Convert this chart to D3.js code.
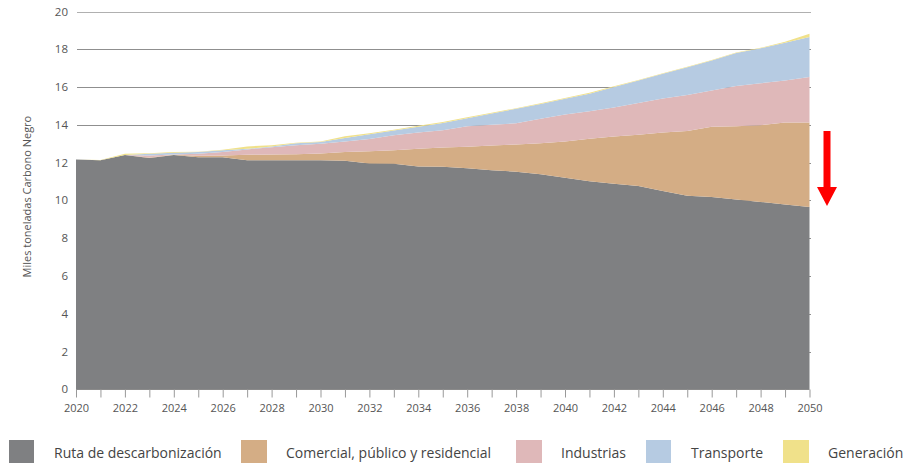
<!DOCTYPE html>
<html>
<head>
<meta charset="utf-8">
<script src="https://cdn.jsdelivr.net/npm/d3@7"></script>
<style>
  html, body { margin: 0; padding: 0; background: #fff; }
  svg { display: block; font-family: "Open Sans", sans-serif; }
</style>
</head>
<body>
<svg id="chart" width="904" height="463"></svg>
<script>
const years = d3.range(2020, 2051);
const seriesNames = ["Ruta de descarbonización", "Comercial, público y residencial", "Industrias", "Transporte", "Generación"];
const seriesColors = ["#7f8082", "#d4ad85", "#dfb8b9", "#b6cbe2", "#f0e18a"];

const ruta = [12.17, 12.12, 12.40, 12.25, 12.40, 12.29, 12.29, 12.12, 12.12, 12.12, 12.12, 12.10, 11.95, 11.94, 11.80, 11.78, 11.70, 11.60, 11.52, 11.38, 11.20, 11.02, 10.88, 10.76, 10.50, 10.25, 10.18, 10.05, 9.92, 9.78, 9.65];
const comercial = [0, 0, 0, 0.02, 0.02, 0.07, 0.09, 0.30, 0.31, 0.32, 0.36, 0.46, 0.65, 0.71, 0.94, 1.02, 1.14, 1.30, 1.44, 1.64, 1.92, 2.24, 2.50, 2.72, 3.10, 3.43, 3.72, 3.88, 4.06, 4.34, 4.47];
const industrias = [0, 0, 0, 0.11, 0.01, 0.11, 0.18, 0.28, 0.39, 0.48, 0.52, 0.56, 0.65, 0.80, 0.86, 0.92, 1.08, 1.10, 1.12, 1.30, 1.43, 1.46, 1.54, 1.67, 1.80, 1.90, 1.92, 2.12, 2.22, 2.23, 2.41];
const transporte = [0, 0, 0, 0.09, 0.09, 0.09, 0.09, 0.03, 0.04, 0.11, 0.09, 0.18, 0.25, 0.25, 0.30, 0.38, 0.43, 0.60, 0.77, 0.78, 0.83, 0.93, 1.08, 1.20, 1.30, 1.47, 1.58, 1.75, 1.85, 2.00, 2.12];
const generacion = [0, 0.02, 0.07, 0.03, 0.04, 0.02, 0.03, 0.13, 0.06, 0.02, 0.03, 0.10, 0.05, 0.04, 0.05, 0.05, 0.05, 0.04, 0.03, 0.04, 0.04, 0.05, 0.04, 0.03, 0.03, 0.03, 0.03, 0.03, 0.03, 0.05, 0.17];
const yTicks = [0, 2, 4, 6, 8, 10, 12, 14, 16, 18, 20];
const xLabelYears = d3.range(2020, 2051, 2);
const yTitle = "Miles toneladas Carbono Negro";

const seriesValues = [ruta, comercial, industrias, transporte, generacion];
const table = years.map((yr, i) => {
  const row = { year: yr };
  seriesNames.forEach((n, k) => { row[n] = seriesValues[k][i]; });
  return row;
});

const svg = d3.select("#chart");
const x = d3.scaleLinear().domain([2020, 2050]).range([76, 809.5]);
const y = d3.scaleLinear().domain([0, 20]).range([389.3, 11.5]);

// gridlines
svg.append("g").selectAll("line").data(yTicks.filter(d => d > 0)).join("line")
  .attr("x1", 77).attr("x2", 811)
  .attr("y1", d => Math.round(y(d)) + 0.5).attr("y2", d => Math.round(y(d)) + 0.5)
  .attr("stroke", d => d === 20 ? "#b0b0b0" : "#8f8f8f").attr("stroke-width", 1);

// stacked areas
const stack = d3.stack().keys(seriesNames);
const layers = stack(table);
const area = d3.area()
  .x(d => x(d.data.year))
  .y0(d => y(d[0]))
  .y1(d => y(d[1]));
svg.append("g").selectAll("path").data(layers).join("path")
  .attr("d", area)
  .attr("fill", (d, i) => seriesColors[i]);

// y tick labels
svg.append("g").selectAll("text").data(yTicks).join("text")
  .attr("x", 68).attr("y", d => y(d))
  .attr("dy", "0.35em")
  .attr("text-anchor", "end")
  .attr("font-size", 11.5)
  .attr("fill", "#555")
  .text(d => d);

// x axis
const xAxis = d3.axisBottom(x)
  .tickValues(years)
  .tickSize(8)
  .tickFormat(d => xLabelYears.includes(d) ? d : "");
const gx = svg.append("g").attr("transform", `translate(0,${Math.round(y(0)) + 0.5})`).call(xAxis);
gx.select(".domain").attr("stroke", "#8a8a8a").attr("d", `M${x(2020)},0H${x(2050)}`);
gx.selectAll(".tick line").attr("stroke", "#999");
gx.selectAll(".tick text")
  .attr("font-family", "Open Sans, sans-serif")
  .attr("font-size", 11)
  .attr("fill", "#555")
  .attr("dy", "0.71em")
  .attr("y", 15);

// y axis title
svg.append("text")
  .attr("transform", `translate(31,${y(10.2)}) rotate(-90)`)
  .attr("text-anchor", "middle")
  .attr("font-size", 11)
  .attr("fill", "#555")
  .text(yTitle);

// red arrow annotation
svg.append("path")
  .attr("d", "M823.5,131H830.5V187H837L827,206L817,187H823.5Z")
  .attr("fill", "#ff0000");

// legend
const legendX = [9, 241, 516, 646, 783];
const legendW = [25, 26, 26, 25, 26];
const lg = svg.append("g");
seriesNames.forEach((n, i) => {
  lg.append("rect")
    .attr("x", legendX[i]).attr("y", 440)
    .attr("width", legendW[i]).attr("height", 25)
    .attr("fill", seriesColors[i]);
  lg.append("text")
    .attr("x", legendX[i] + 45).attr("y", 453)
    .attr("dy", "0.35em")
    .attr("font-size", 14)
    .attr("fill", "#444")
    .text(n);
});
</script>
</body>
</html>
